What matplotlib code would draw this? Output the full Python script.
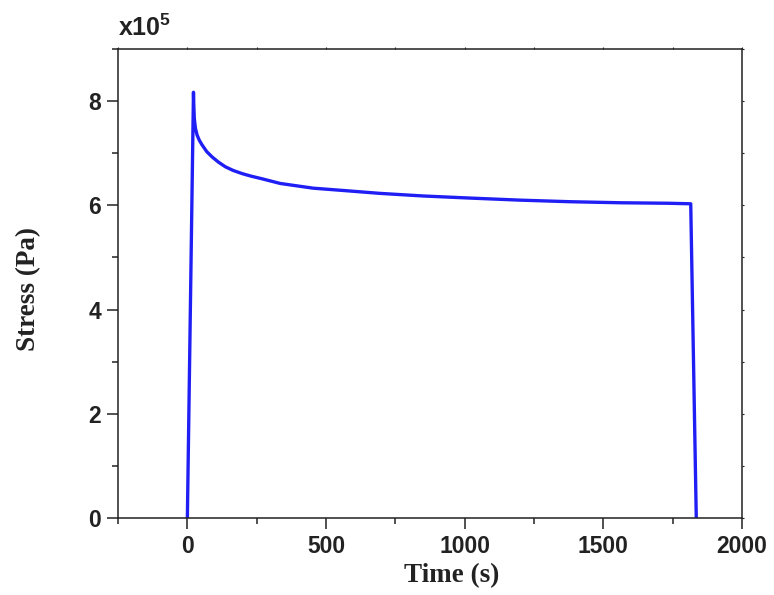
import matplotlib
matplotlib.use("Agg")
import matplotlib.pyplot as plt
from matplotlib.ticker import MultipleLocator, FuncFormatter

plt.rcParams['mathtext.fontset'] = 'custom'
plt.rcParams['mathtext.rm'] = 'Liberation Sans'
plt.rcParams['mathtext.bf'] = 'Liberation Sans:bold'

# time (s) and stress (Pa)
time = [0, 22, 23, 25, 29, 35, 43, 53, 70, 89, 112, 137, 165, 197, 230, 269, 335,
        453, 575, 694, 850, 1018, 1200, 1378, 1560, 1737, 1815, 1835]
stress = [0, 8.17e5, 7.95e5, 7.67e5, 7.48e5, 7.35e5, 7.25e5, 7.16e5, 7.03e5, 6.93e5,
          6.83e5, 6.74e5, 6.67e5, 6.61e5, 6.56e5, 6.51e5, 6.42e5,
          6.33e5, 6.28e5, 6.23e5, 6.18e5, 6.14e5, 6.10e5, 6.07e5, 6.05e5, 6.04e5, 6.03e5, 0]

fig = plt.figure(figsize=(7.74, 5.95), dpi=100)
ax = fig.add_axes([0.1525, 0.1294, 0.8062, 0.7882])

ax.plot(time, stress, color="#1f1ff5", lw=2.4, solid_joinstyle="round")

ax.set_xlim(-250, 2000)
ax.set_ylim(0, 9e5)
ax.xaxis.set_major_locator(MultipleLocator(500))
ax.xaxis.set_minor_locator(MultipleLocator(250))
ax.yaxis.set_major_locator(MultipleLocator(2e5))
ax.yaxis.set_minor_locator(MultipleLocator(1e5))
ax.yaxis.set_major_formatter(FuncFormatter(lambda v, p: "%d" % round(v / 1e5)))
ax.xaxis.set_major_formatter(FuncFormatter(lambda v, p: "" if v < 0 else "%d" % v))

for s in ax.spines.values():
    s.set_linewidth(1.1)
    s.set_color("#222222")

ax.tick_params(which="major", direction="out", length=8, width=1.1, color="#222222",
               labelsize=16.5, pad=4)
ax.tick_params(which="minor", direction="out", length=4, width=1.1, color="#222222")
ax.tick_params(which="both", top=True, right=True)
# tiny marks on top / right like the original
for t in ax.xaxis.get_major_ticks() + ax.xaxis.get_minor_ticks():
    t.tick2line.set_markersize(1.5)
    t.tick2line.set_markeredgewidth(0.8)
for t in ax.yaxis.get_major_ticks() + ax.yaxis.get_minor_ticks():
    t.tick2line.set_markersize(1.5)
    t.tick2line.set_markeredgewidth(0.8)

for lab in ax.get_xticklabels() + ax.get_yticklabels():
    lab.set_fontfamily("Liberation Sans")
    lab.set_fontweight("bold")
    lab.set_color("#222222")

ax.set_xlabel("Time (s)", family="Liberation Serif", fontweight="bold", fontsize=19.5,
              color="#222222")
ax.set_ylabel("Stress (Pa)", family="Liberation Serif", fontweight="bold", fontsize=19.5,
              color="#222222")
ax.xaxis.set_label_coords(0.535, -0.097)
ax.yaxis.set_label_coords(-0.123, 0.488)

ax.text(0.0, 1.028, r"x10$^{\mathbf{5}}$", transform=ax.transAxes, family="Liberation Sans",
        fontweight="bold", fontsize=18, color="#222222", ha="left", va="baseline")

fig.savefig("out.png", dpi=100)
